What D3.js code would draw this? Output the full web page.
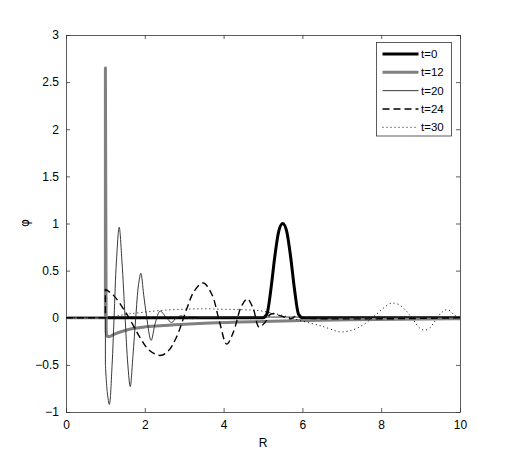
<!DOCTYPE html>
<html><head><meta charset="utf-8">
<script src="https://cdn.jsdelivr.net/npm/d3@7"></script>
<style>body{margin:0;background:#fff}svg{display:block}text{font-family:"Liberation Sans",Arial,sans-serif}</style>
</head><body>
<script>
// Data (R, phi)
const xTicks = [0, 2, 4, 6, 8, 10];
const yTicks = [-1, -0.5, 0, 0.5, 1, 1.5, 2, 2.5, 3];
const seriesNames = ["t=0", "t=12", "t=20", "t=24", "t=30"];

const t0R   = [1, 5.0, 5.1, 5.2, 5.3, 5.4, 5.5, 5.6, 5.7, 5.8, 5.9, 6.0, 10];
const t0Phi = [0, 0, 0.04, 0.3, 0.65, 0.92, 1.0, 0.92, 0.65, 0.3, 0.04, 0, 0];

const t12R   = [0, 1, 1, 1.02, 1.05, 1.1, 1.2, 1.54, 1.96, 2.39, 3.0, 3.65, 5.0, 6.0, 7.2, 8.5, 10];
const t12Phi = [0, 0, 2.65, -0.15, -0.2, -0.2, -0.18, -0.13, -0.10, -0.085, -0.07, -0.057, -0.04, -0.03, -0.02, -0.015, -0.01];

const t20R   = [0, 1, 1, 1.05, 1.1, 1.17, 1.22, 1.28, 1.35, 1.42, 1.5, 1.57, 1.63, 1.7, 1.77, 1.84, 1.9, 1.97, 2.05, 2.16, 2.27, 2.39, 2.55, 2.68, 2.8, 2.92, 3.05, 3.2, 3.4, 10];
const t20Phi = [0, 0, -0.5, -0.8, -0.92, -0.5, 0, 0.6, 0.96, 0.6, 0, -0.5, -0.73, -0.4, 0, 0.35, 0.47, 0.25, 0, -0.24, -0.05, 0.07, 0, -0.05, 0, 0.02, 0, -0.01, 0, 0];

const t24R   = [0, 1, 1, 1.2, 1.54, 1.88, 2.1, 2.39, 2.6, 2.8, 3.07, 3.25, 3.48, 3.7, 3.9, 4.08, 4.25, 4.45, 4.6, 4.75, 4.9, 5.05, 5.2, 5.45, 5.7, 5.85, 6.0, 10];
const t24Phi = [0, 0, 0.3, 0.24, 0.04, -0.21, -0.34, -0.40, -0.35, -0.21, 0.1, 0.28, 0.37, 0.25, -0.05, -0.28, -0.15, 0.12, 0.2, 0.1, -0.1, -0.05, 0.04, 0.02, -0.01, 0.02, 0, 0];

const t30R   = [0, 1, 1.1, 1.3, 1.6, 2.0, 2.5, 3.0, 3.5, 4.0, 4.5, 4.9, 5.35, 5.7, 5.95, 6.5, 6.95, 7.13, 7.27, 7.39, 7.5, 7.6, 7.86, 8.05, 8.22, 8.3, 8.45, 8.62, 8.7, 8.88, 8.95, 9.07, 9.2, 9.34, 9.52, 9.65, 9.75, 9.85, 10];
const t30Phi = [0, 0, 0, 0.02, 0.04, 0.06, 0.08, 0.09, 0.095, 0.09, 0.085, 0.075, 0.04, 0.0, -0.03, -0.09, -0.15, -0.145, -0.13, -0.11, -0.085, -0.06, 0.03, 0.1, 0.15, 0.155, 0.14, 0.08, 0.04, -0.06, -0.10, -0.13, -0.12, -0.05, 0.05, 0.085, 0.075, 0.03, 0.0];

const W = 507, H = 463;
const m = {left: 66, right: 460, top: 35, bottom: 412};
const svg = d3.select("body").append("svg").attr("width", W).attr("height", H);

const x = d3.scaleLinear().domain([0, 10]).range([m.left, m.right]);
const y = d3.scaleLinear().domain([-1, 3]).range([m.bottom, m.top]);

const axisColor = "#333";
const gB = svg.append("g").attr("transform", `translate(0,${m.bottom})`)
  .call(d3.axisBottom(x).tickValues(xTicks).tickSizeInner(-4).tickSizeOuter(0).tickPadding(8).tickFormat(d3.format("d")));
const gT = svg.append("g").attr("transform", `translate(0,${m.top})`)
  .call(d3.axisTop(x).tickValues(xTicks).tickSizeInner(-4).tickSizeOuter(0).tickFormat(""));
const gL = svg.append("g").attr("transform", `translate(${m.left},0)`)
  .call(d3.axisLeft(y).tickValues(yTicks).tickSizeInner(-4).tickSizeOuter(0).tickPadding(7).tickFormat(d => d < 0 ? "\u2212" + Math.abs(d) : String(d)));
const gR = svg.append("g").attr("transform", `translate(${m.right},0)`)
  .call(d3.axisRight(y).tickValues(yTicks).tickSizeInner(-4).tickSizeOuter(0).tickFormat(""));
[gB, gT, gL, gR].forEach(g => {
  g.selectAll("path").attr("stroke", axisColor).attr("stroke-width", 0.8);
  g.selectAll("line").attr("stroke", axisColor).attr("stroke-width", 0.8);
  g.selectAll("text").attr("font-size", 12).attr("fill", "#000").attr("font-family", "Liberation Sans, Arial, sans-serif");
});

svg.append("clipPath").attr("id", "c").append("rect")
  .attr("x", m.left).attr("y", m.top).attr("width", m.right - m.left).attr("height", m.bottom - m.top);

const series = [
  {name: seriesNames[0], R: t0R, P: t0Phi, color: "#000", w: 3, dash: null, curve: d3.curveMonotoneX},
  {name: seriesNames[1], R: t12R, P: t12Phi, color: "#808080", w: 3, dash: null, curve: d3.curveMonotoneX},
  {name: seriesNames[2], R: t20R, P: t20Phi, color: "#222", w: 0.9, dash: null, curve: d3.curveCatmullRom.alpha(0.5)},
  {name: seriesNames[3], R: t24R, P: t24Phi, color: "#000", w: 1.4, dash: "7,4", curve: d3.curveCatmullRom.alpha(0.5)},
  {name: seriesNames[4], R: t30R, P: t30Phi, color: "#000", w: 1, dash: "1,3", curve: d3.curveCatmullRom.alpha(0.5)}
];

const plot = svg.append("g").attr("clip-path", "url(#c)");
series.forEach(s => {
  const pts = s.R.map((r, i) => [r, s.P[i]]);
  // split at the jump (repeated R) : straight part up to the jump, smooth after it
  let j = 0;
  for (let i = 1; i < pts.length; i++) if (pts[i][0] === pts[i - 1][0]) { j = i; break; }
  const lin = d3.line().x(d => x(d[0])).y(d => y(d[1]));
  const cur = d3.line().x(d => x(d[0])).y(d => y(d[1])).curve(s.curve);
  const head = j > 0 ? lin(pts.slice(0, j + 1)) : "";
  let tail = cur(pts.slice(j));
  if (j > 0) tail = tail.replace(/^M[^LC]*/, "");
  plot.append("path").attr("d", head + tail).attr("fill", "none")
    .attr("stroke", s.color).attr("stroke-width", s.w)
    .attr("stroke-dasharray", s.dash).attr("stroke-linejoin", "round");
});

svg.append("text").attr("x", 263).attr("y", 447).attr("text-anchor", "middle").attr("font-size", 12).text("R");
svg.append("text").attr("transform", "translate(29,223) rotate(-90)").attr("text-anchor", "middle")
  .attr("font-size", 12).style("font-family", "DejaVu Sans, sans-serif").text("\u03c6");

const lg = svg.append("g");
lg.append("rect").attr("x", 376.5).attr("y", 42.5).attr("width", 75).attr("height", 93.5)
  .attr("fill", "#fff").attr("stroke", axisColor).attr("stroke-width", 0.8);
const legY = d3.scalePoint().domain(seriesNames).range([54, 127.3]);
series.forEach(s => {
  const yy = legY(s.name);
  lg.append("line").attr("x1", 382.5).attr("x2", 418.5).attr("y1", yy).attr("y2", yy)
    .attr("stroke", s.color).attr("stroke-width", s.w).attr("stroke-dasharray", s.dash);
  lg.append("text").attr("x", 421).attr("y", yy + 4).attr("font-size", 11.5).text(s.name);
});
</script>
</body></html>
